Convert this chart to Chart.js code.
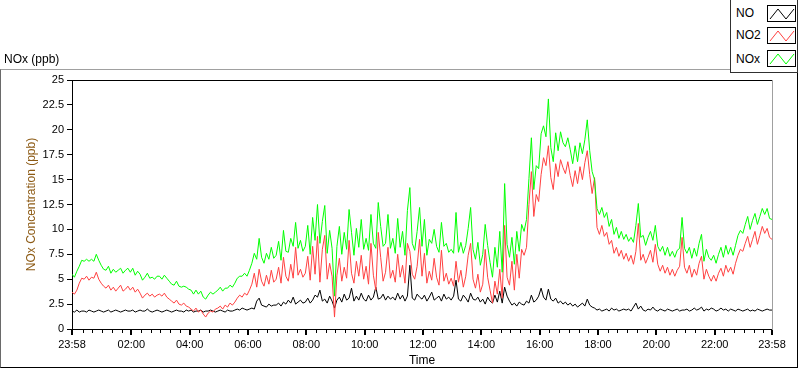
<!DOCTYPE html>
<html>
<head>
<meta charset="utf-8">
<title>NOx (ppb)</title>
<script src="https://cdn.jsdelivr.net/npm/chart.js@4.4.1/dist/chart.umd.min.js"></script>
<style>
  html, body { margin: 0; padding: 0; background: #fff; }
  #wrap { position: relative; width: 800px; height: 369px; overflow: hidden;
          font-family: "Liberation Sans", Arial, sans-serif; color: #000; }
  #chart { position: absolute; left: 0; top: 0; }
  .frame { position: absolute; left: 0; top: 69px; width: 796px; height: 297px;
           border-top: 1px solid #a0a0a0; border-left: 1px solid #6a6a6a;
           border-right: 1px solid #000; border-bottom: 1px solid #000; }
  .caption { position: absolute; left: 4px; top: 52px; font-size: 12px; line-height: 14px; }
  .legend { position: absolute; left: 730px; top: 0; width: 66px; height: 72px;
            border-left: 1px solid #303030; border-right: 1px solid #303030;
            border-bottom: 1px solid #303030; background: #fff; }
  .legend .name { position: absolute; left: 5px; font-size: 12px; line-height: 14px; }
  .legend svg { position: absolute; left: 36px; }
</style>
</head>
<body>
<div id="wrap">
  <div class="frame"></div>
  <canvas id="chart" width="800" height="369"></canvas>
  <div class="caption">NOx (ppb)</div>
  <div class="legend" id="legend"></div>
</div>
<script>
// samples every 5 minutes, starting 23:58 of the previous day
const SAMPLE_STEP_MIN = 5;

// NO (ppb), one row per hour
const noValues = [
  1.8,1.7,1.9,1.7,1.8,1.8,1.7,1.9,1.8,1.7,1.8,1.9,
  1.8,1.7,1.8,1.9,1.7,1.8,1.9,1.8,1.7,1.8,1.9,1.8,
  1.8,1.9,1.7,1.8,1.9,1.8,1.8,2.0,1.8,1.7,1.8,1.9,
  1.8,1.7,1.8,1.9,1.8,1.7,1.8,1.9,1.8,1.8,1.7,1.9,
  1.8,1.9,1.7,1.8,1.8,1.9,1.7,1.8,1.8,1.9,1.8,1.7,
  1.8,1.9,1.8,1.7,1.9,1.8,1.8,1.9,2.0,1.9,2.1,2.0,
  1.9,2.0,2.1,2.0,2.8,3.1,2.4,2.3,2.2,2.5,2.3,2.4,
  2.4,2.6,2.3,2.7,2.5,2.9,2.6,3.2,2.5,2.7,2.9,2.6,
  2.7,3.1,2.6,2.9,3.4,3.2,3.9,2.8,3.0,2.6,3.3,2.8,
  2.1,2.9,3.2,2.7,3.5,2.9,3.1,4.1,2.8,3.3,2.9,3.6,
  3.0,2.8,3.4,2.9,3.2,4.2,3.0,3.1,3.5,2.9,3.3,3.0,
  3.2,2.9,3.6,3.0,3.4,2.8,3.3,6.4,3.1,2.9,3.5,3.2,
  3.0,3.4,2.8,3.2,3.7,2.9,3.1,3.3,2.8,3.5,3.0,3.2,
  2.9,3.3,4.9,3.0,2.8,3.4,3.1,2.7,3.6,3.0,2.9,3.2,
  2.7,3.0,2.5,3.2,2.8,2.6,3.4,2.7,3.8,2.6,4.2,3.3,
  2.8,2.4,2.6,2.3,2.7,2.5,2.4,2.8,2.6,3.4,2.7,2.9,
  3.3,4.1,3.2,2.9,4.0,3.0,2.8,3.1,2.6,2.8,2.5,2.7,
  2.4,2.6,2.3,2.5,2.2,2.4,2.6,2.3,3.0,2.4,2.2,2.1,
  1.9,2.0,1.8,1.9,2.0,1.8,2.1,1.9,2.0,1.8,1.9,2.0,
  1.9,2.0,1.8,2.2,2.6,2.0,2.3,1.9,1.8,2.0,1.9,2.2,
  1.9,1.8,2.0,1.9,1.8,2.0,1.9,1.8,1.9,2.0,1.8,1.9,
  1.9,2.0,1.8,1.9,2.1,1.9,2.0,2.2,1.8,2.0,1.9,2.1,
  2.0,1.8,1.9,2.1,1.9,2.0,1.8,2.0,1.9,1.8,2.0,1.9,
  1.8,1.9,2.0,1.8,1.9,1.8,2.0,1.9,1.8,1.9,2.0,1.9,
  1.9
];

// NO2 (ppb)
const no2Values = [
  3.7,3.5,3.9,4.6,5.1,5.0,5.3,4.9,5.2,5.1,5.7,5.0,
  4.6,4.3,4.1,4.4,3.9,4.2,3.8,4.1,4.4,3.8,4.0,4.3,
  3.9,4.2,3.7,4.0,3.6,3.1,3.4,3.6,3.3,3.5,3.2,3.4,
  3.5,3.3,3.6,3.2,3.0,2.8,2.6,2.9,2.5,2.4,2.6,2.3,
  2.2,2.0,1.8,2.1,1.7,1.9,1.5,1.2,1.6,1.8,1.7,2.0,
  2.1,2.3,2.0,2.4,2.2,2.6,2.4,2.7,3.1,3.4,3.2,3.6,
  3.4,3.9,4.5,5.6,4.2,6.0,4.8,4.3,5.4,4.5,5.9,4.7,
  5.0,6.2,4.6,7.2,5.3,4.8,6.5,5.1,8.2,5.4,6.0,5.2,
  5.6,7.3,4.9,8.3,5.5,9.3,4.7,8.0,9.4,5.0,6.6,5.3,
  1.2,5.4,7.1,4.8,6.2,5.1,8.9,5.6,4.6,6.8,5.3,7.4,
  5.0,6.3,4.5,8.6,5.4,3.9,9.7,7.2,4.8,5.7,8.2,5.1,
  5.9,4.7,7.5,5.2,6.4,4.6,8.6,7.8,5.5,5.0,6.3,9.0,
  5.3,7.6,4.6,5.8,4.9,7.1,5.2,4.4,7.9,4.8,5.6,4.5,
  5.1,4.3,6.8,4.7,5.9,4.2,5.3,7.4,8.6,5.0,4.1,5.5,
  3.7,4.5,8.0,5.2,3.9,2.6,4.8,3.5,6.0,3.1,10.4,5.2,
  4.4,6.8,3.9,7.5,5.1,8.0,7.4,8.2,12.5,15.8,11.3,13.5,
  12.8,15.5,17.2,16.4,18.4,15.2,14.0,16.6,15.3,17.0,16.2,15.6,
  16.8,15.4,14.3,15.9,14.6,16.3,15.0,16.7,17.9,15.5,13.6,15.2,
  10.2,9.5,10.4,9.3,9.7,8.5,8.9,7.6,8.2,7.3,7.9,7.0,
  7.6,6.8,7.4,6.5,7.8,10.6,6.9,7.5,6.6,7.2,7.9,6.7,
  8.5,6.5,5.8,6.4,5.6,6.2,5.4,6.0,5.3,5.9,6.3,9.2,
  6.2,5.6,6.4,5.2,6.0,5.4,6.6,7.3,5.0,6.0,5.3,4.8,
  5.4,4.8,5.6,6.1,5.3,6.4,5.7,6.2,5.5,6.6,7.4,8.0,
  7.8,8.6,9.3,8.2,9.0,9.8,8.5,9.4,10.3,9.6,10.1,9.2,
  9.0
];

// NOx (ppb)
const noxValues = [
  5.5,5.2,5.8,6.3,6.9,6.8,7.0,6.8,7.0,6.8,7.5,6.9,
  6.4,6.0,5.9,6.3,5.6,6.0,5.7,5.9,6.1,5.6,5.9,6.1,
  5.7,6.1,5.4,5.8,5.5,4.9,5.2,5.6,5.1,5.2,5.0,5.3,
  5.3,5.0,5.4,5.1,4.8,4.5,4.4,4.8,4.3,4.2,4.3,4.2,
  4.0,3.9,3.5,3.9,3.5,3.8,3.2,3.0,3.4,3.7,3.5,3.7,
  3.9,4.2,3.8,4.1,4.1,4.4,4.2,4.6,5.1,5.3,5.3,5.6,
  5.3,5.9,6.6,7.6,7.0,9.1,7.2,6.6,7.6,7.0,8.2,7.1,
  7.4,8.8,6.9,9.9,7.8,7.7,9.1,8.3,10.7,8.1,8.9,7.8,
  8.3,10.4,7.5,11.2,8.9,12.5,8.6,10.8,12.4,7.6,9.9,8.1,
  3.3,8.3,10.3,7.5,9.7,8.0,12.0,9.7,7.4,10.1,8.2,11.0,
  8.0,9.1,7.9,11.5,8.6,8.1,12.7,10.3,8.3,8.6,11.5,8.1,
  9.1,7.6,11.1,8.2,9.8,7.4,11.9,14.2,8.6,7.9,9.8,12.2,
  8.3,11.0,7.4,9.0,8.6,10.0,8.3,7.7,10.7,8.3,8.6,7.7,
  8.0,7.6,11.7,7.7,8.7,7.6,8.4,10.1,12.2,8.0,7.0,8.7,
  6.4,7.5,10.5,8.4,6.7,5.2,8.2,6.2,9.8,5.7,14.6,8.5,
  7.2,9.2,6.5,9.8,7.8,10.5,9.8,11.0,15.1,19.2,14.0,16.4,
  16.1,19.6,20.4,19.3,23.1,18.2,16.8,19.7,17.9,19.8,18.7,18.3,
  19.2,18.0,16.6,18.4,16.8,18.7,17.6,19.0,21.0,17.9,15.8,15.0,
  12.1,11.5,12.2,11.2,11.7,10.3,11.0,9.5,10.2,9.1,9.8,9.0,
  9.5,8.8,9.2,8.7,10.4,12.6,9.2,9.4,8.4,9.2,9.8,8.9,
  10.4,8.3,7.8,8.3,7.4,8.2,7.3,7.8,7.2,7.9,8.1,11.2,
  8.1,7.6,8.2,7.1,8.1,7.3,8.6,9.5,6.8,8.0,7.2,6.9,
  7.4,6.6,7.5,8.2,7.2,8.4,7.5,8.2,7.4,8.4,9.4,9.9,
  9.6,10.5,11.3,10.0,10.9,11.6,10.5,11.3,12.1,11.5,12.1,11.1,
  11.0
];

// x axis: minutes after 23:58
const majorTickMin = [0, 122, 242, 362, 482, 602, 722, 842, 962, 1082, 1202, 1322, 1440];
const majorTickLabels = ["23:58", "02:00", "04:00", "06:00", "08:00", "10:00", "12:00",
                         "14:00", "16:00", "18:00", "20:00", "22:00", "23:58"];
const seriesNames = ["NO", "NO2", "NOx"];
const seriesColors = ["#000000", "#ff4040", "#00ff00"];

const toPoints = (arr) => arr.map((v, i) => ({ x: i * SAMPLE_STEP_MIN, y: v }));

// minor ticks every 20 min on the clock (00:20, 00:40, ...)
const minorTickMin = [];
for (let m = 22; m < 1440; m += 20) {
  if (!majorTickMin.includes(m)) minorTickMin.push(m);
}

const FONT = '"Liberation Sans", Arial, sans-serif';
Chart.defaults.font.family = FONT;
Chart.defaults.color = "#000";

// tick marks under the time axis + plot frame (top black, right grey)
const frameAndTicks = {
  id: "frameAndTicks",
  afterDraw(chart) {
    const { ctx, chartArea: a } = chart;
    const xs = chart.scales.x;
    ctx.save();
    ctx.fillStyle = "#000";
    minorTickMin.forEach((m) => {
      const px = Math.round(xs.getPixelForValue(m));
      ctx.fillRect(px, a.bottom + 1, 1, 3);
    });
    majorTickMin.forEach((m) => {
      const px = Math.round(xs.getPixelForValue(m));
      ctx.fillRect(px - 1, a.bottom + 1, 2, 5);
    });
    ctx.fillRect(Math.round(a.left), Math.round(a.top), Math.round(a.right - a.left), 1);
    ctx.fillStyle = "#a0a0a0";
    ctx.fillRect(Math.round(a.right), Math.round(a.top), 1, Math.round(a.bottom - a.top) + 1);
    ctx.restore();
  }
};

const values = [noValues, no2Values, noxValues];

new Chart(document.getElementById("chart"), {
  type: "line",
  data: {
    datasets: seriesNames.map((name, i) => ({
      label: name,
      data: toPoints(values[i]),
      borderColor: seriesColors[i],
      borderWidth: 1,
      pointRadius: 0,
      tension: 0,
      fill: false,
      order: 3 - i // NOx drawn last, on top
    }))
  },
  options: {
    responsive: false,
    animation: false,
    events: [],
    layout: { padding: { left: 0, right: 28, top: 80, bottom: 0 } },
    plugins: { legend: { display: false }, tooltip: { enabled: false } },
    scales: {
      x: {
        type: "linear",
        min: 0,
        max: 1440,
        afterFit: (s) => { s.height = 40; },
        afterBuildTicks: (s) => { s.ticks = majorTickMin.map((v) => ({ value: v })); },
        ticks: {
          autoSkip: false,
          maxRotation: 0,
          padding: 9,
          font: { size: 11 },
          color: "#000",
          callback: (v, i) => majorTickLabels[i]
        },
        grid: { display: false, drawTicks: false },
        border: { display: true, color: "#000", width: 1 },
        title: { display: true, text: "Time", color: "#000", font: { size: 12 }, padding: { top: 0, bottom: 1 } }
      },
      y: {
        min: 0,
        max: 25,
        afterFit: (s) => { s.width = 72; },
        ticks: { stepSize: 2.5, padding: 3, font: { size: 11 }, color: "#000" },
        grid: { display: true, drawOnChartArea: false, drawTicks: true, tickLength: 5, tickColor: "#000", color: "#000" },
        border: { display: true, color: "#000", width: 1 },
        title: { display: true, text: "NOx Concentration (ppb)", color: "#8c5a14", font: { size: 12 }, padding: { top: 24, bottom: 0 } }
      }
    }
  },
  plugins: [frameAndTicks]
});

// legend: name + line sample box
const legend = document.getElementById("legend");
const rowTop = [6, 28, 52];
const boxTop = [5, 27, 50];
seriesNames.forEach((name, i) => {
  const label = document.createElement("div");
  label.className = "name";
  label.style.top = rowTop[i] + "px";
  label.textContent = name;
  legend.appendChild(label);
  const ns = "http://www.w3.org/2000/svg";
  const svg = document.createElementNS(ns, "svg");
  svg.setAttribute("width", "29");
  svg.setAttribute("height", "17");
  svg.style.top = boxTop[i] + "px";
  const rect = document.createElementNS(ns, "rect");
  rect.setAttribute("x", "0.5"); rect.setAttribute("y", "0.5");
  rect.setAttribute("width", "28"); rect.setAttribute("height", "16");
  rect.setAttribute("fill", "#fff"); rect.setAttribute("stroke", "#000");
  svg.appendChild(rect);
  const line = document.createElementNS(ns, "polyline");
  line.setAttribute("points", "3,14 11,4 19,14 27,4");
  line.setAttribute("fill", "none");
  line.setAttribute("stroke", seriesColors[i]);
  line.setAttribute("stroke-width", "1");
  svg.appendChild(line);
  legend.appendChild(svg);
});
</script>
</body>
</html>
